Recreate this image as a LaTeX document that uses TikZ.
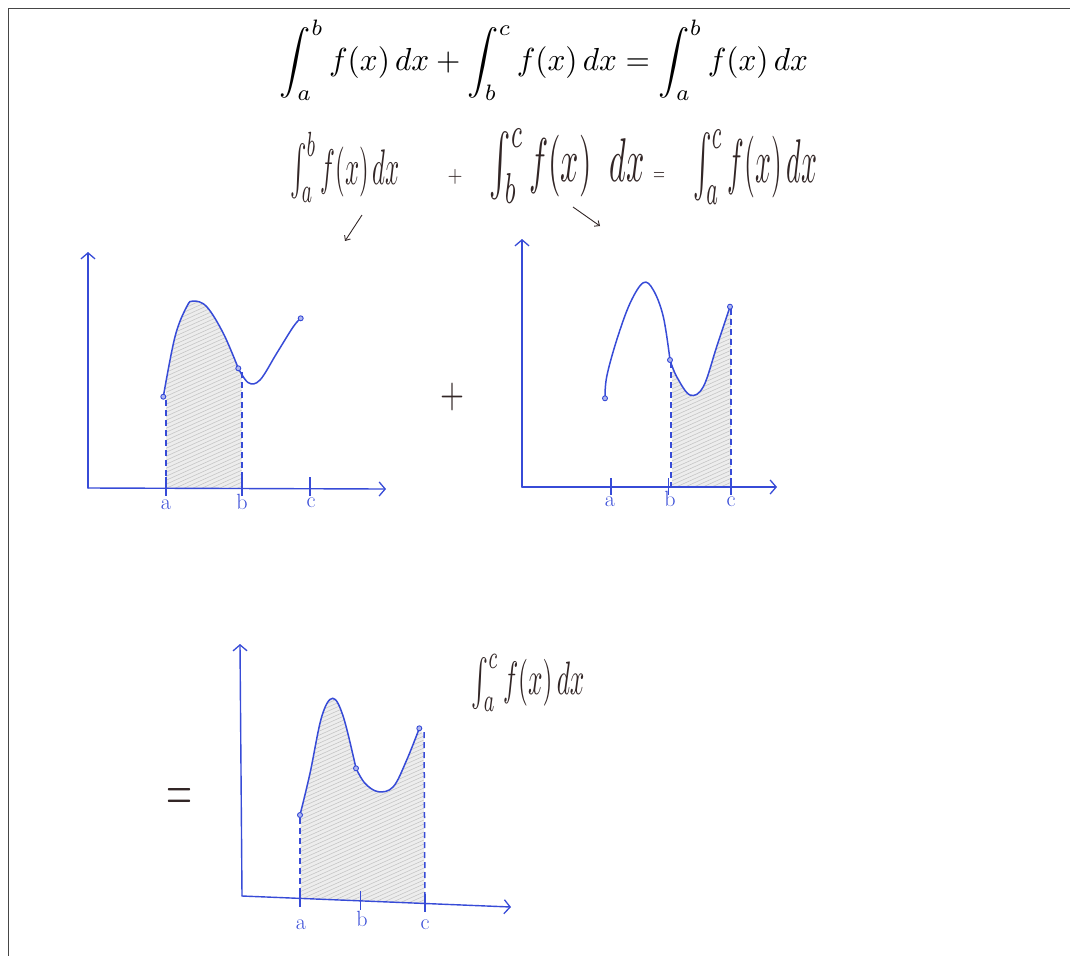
\documentclass[tikz,border=0pt]{standalone}
\usepackage{graphicx}
\usetikzlibrary{arrows.meta}
\definecolor{pen}{RGB}{55,75,215}
\definecolor{ink}{RGB}{50,38,38}
\definecolor{framec}{RGB}{70,70,70}
\tikzset{
  axisline/.style={pen, line width=1.4pt, line cap=round, -{Straight Barb[length=6pt,width=14pt,line width=1.3pt]}},
  tickline/.style={pen, line width=1.2pt},
  curveline/.style={pen, line width=1.5pt, line cap=round},
  dashline/.style={draw=pen, line width=1.5pt, dash pattern=on 6pt off 4pt},
  hatchline/.style={gray!45, line width=0.6pt},
  ptdot/.style={circle, draw=pen, fill=pen!40, line width=0.9pt, minimum size=5pt, inner sep=0pt},
  lbl/.style={pen, inner sep=0pt, font=\fontsize{22}{22}\selectfont},
  hand/.style={ink, inner sep=0pt},
  handarrow/.style={ink, line width=0.9pt, -{Straight Barb[length=4pt,width=7pt]}},
}
% hatch a box (xmin,ymin)-(xmax,ymax); used inside a clipped scope
\newcommand{\myhatch}[4]{%
  \fill[gray!14] (#1,#2) rectangle (#3,#4);
  \pgfmathsetmacro{\myhw}{(#3-#1)*0.45}%
  \pgfmathsetmacro{\myhend}{#4+\myhw}%
  \pgfmathsetmacro{\myhsec}{#2+4}%
  \foreach \d in {#2,\myhsec,...,\myhend} {\draw[hatchline] (#1,\d) -- (#3,\d-\myhw);}%
}
\begin{document}
\begin{tikzpicture}[x=1pt,y=-1pt]
\useasboundingbox (0,0) rectangle (1070,956);
% frame
\draw[framec, line width=1pt] (1070,8) -- (8,8) -- (8,956);

% typeset formula
\node[inner sep=0pt] (typeset) at (544,60) {\resizebox*{528pt}{80pt}{$\displaystyle \int_a^b f(x)\,dx+\int_b^c f(x)\,dx=\int_a^b f(x)\,dx$}};

% handwritten formula
\node[hand] (hw1) at (345,167) {\resizebox*{110pt}{70pt}{$\int_a^b f(x)\,dx$}};
\node[hand] (hplus) at (455,177) {\resizebox*{15pt}{15pt}{$+$}};
\node[hand] (hw2) at (567,166) {\resizebox*{155pt}{75pt}{$\int_b^c f(x)\;\;dx$}};
\node[hand] (heq) at (659,176) {\resizebox*{12pt}{8pt}{$=$}};
\node[hand] (hw3) at (755,167) {\resizebox*{124pt}{75pt}{$\int_a^c f(x)\,dx$}};
\coordinate (a1s) at (362,215);
\coordinate (a1e) at (345,241);
\coordinate (a2s) at (573,207);
\coordinate (a2e) at (600,226);
\draw[handarrow] (a1s) -- (a1e);
\draw[handarrow] (a2s) -- (a2e);

% ===== shaded areas =====
\begin{scope}
\clip (166,488) -- (166,390) -- plot[smooth, tension=0.6] coordinates {(163.3,396.7) (175,336.7) (186.7,306.7) (193.3,301) (206.7,306.7) (223.3,333.3) (238.3,368.3)} -- (241.5,375) -- (241.5,488) -- cycle;
\myhatch{160}{295}{245}{490}
\end{scope}
\begin{scope}
\clip (672,487) -- (672,365) -- plot[smooth, tension=0.6] coordinates {(670,360) (676.7,376.7) (690,395) (703.3,386.7) (716.7,346.7) (730,306.7)} -- (731,312) -- (731,487) -- cycle;
\myhatch{665}{300}{735}{490}
\end{scope}
\begin{scope}
\clip (300.5,898) -- (300.5,815) -- plot[smooth, tension=0.6] coordinates {(300,815) (310,773.3) (321.7,716.7) (332.7,698.3) (343.3,716.7) (356,768.3)} -- plot[smooth, tension=0.6] coordinates {(356,768.3) (365,783.3) (378.3,791.7) (393.3,786.7) (406.7,760) (419.3,728.3)} -- (423.5,735) -- (424.5,903) -- cycle;
\myhatch{295}{690}{430}{910}
\end{scope}

% ===== graph 1 =====
\coordinate (g1o) at (88,488);
\coordinate (g1y) at (88,252);
\coordinate (g1x) at (386,489);
\draw[dashline] (166,400) -- (166,488);
\draw[dashline] (242,372) -- (242,488);
\draw[curveline] plot[smooth, tension=0.6] coordinates {(163.3,396.7) (175,336.7) (186.7,306.7) (193.3,301) (206.7,306.7) (223.3,333.3) (238.3,368.3)};
\draw[curveline] plot[smooth, tension=0.6] coordinates {(238.3,368.3) (248.3,382.7) (260,380) (276.7,353.3) (293.3,326.7) (300.7,318.3)};
\draw[axisline] (g1o) -- (g1y);
\draw[axisline] (g1o) -- (g1x);
\draw[tickline] (166,477) -- (166,496);
\draw[tickline] (242,477) -- (242,496);
\draw[tickline] (310,477) -- (310,496);
\node[lbl] (g1a) at (166,505) {a};
\node[lbl] (g1b) at (242,502) {b};
\node[lbl] (g1c) at (311,503) {c};
\node[ptdot] (g1p1) at (163.3,396.7) {};
\node[ptdot] (g1p2) at (238.3,368.3) {};
\node[ptdot] (g1p3) at (300.7,318.3) {};

% plus
\node[hand] (bigplus) at (452,397) {\resizebox*{24pt}{28pt}{$+$}};

% ===== graph 2 =====
\coordinate (g2o) at (522,487);
\coordinate (g2y) at (522,239);
\coordinate (g2x) at (777,487);
\draw[dashline] (671,362) -- (671,487);
\draw[dashline] (731,309) -- (731,487);
\draw[curveline] plot[smooth, tension=0.6] coordinates {(605,398.3) (606.7,376.7) (616.7,340) (630,303.3) (643.3,282.7) (653.3,290) (663.3,316.7) (670,360)};
\draw[curveline] plot[smooth, tension=0.6] coordinates {(670,360) (676.7,376.7) (690,395) (703.3,386.7) (716.7,346.7) (730,306.7)};
\draw[axisline] (g2o) -- (g2y);
\draw[axisline] (g2o) -- (g2x);
\draw[tickline] (611,478) -- (611,495);
\draw[tickline] (668.5,478) -- (668.5,495);
\draw[tickline] (731,478) -- (731,495);
\node[lbl] (g2a) at (610,502) {a};
\node[lbl] (g2b) at (670,499) {b};
\node[lbl] (g2c) at (731,502) {c};
\node[ptdot] (g2p1) at (605,398.3) {};
\node[ptdot] (g2p2) at (670,360) {};
\node[ptdot] (g2p3) at (730,306.7) {};

% equals
\node[hand] (bigeq) at (179,799) {\resizebox*{26pt}{22pt}{$=$}};

% ===== graph 3 =====
\coordinate (g3o) at (242,896);
\coordinate (g3y) at (240,644);
\coordinate (g3x) at (511,907);
\draw[dashline] (300,818) -- (300,898);
\draw[dashline] (424,732) -- (425,903);
\draw[curveline] plot[smooth, tension=0.6] coordinates {(300,815) (310,773.3) (321.7,716.7) (332.7,698.3) (343.3,716.7) (356,768.3)};
\draw[curveline] plot[smooth, tension=0.6] coordinates {(356,768.3) (365,783.3) (378.3,791.7) (393.3,786.7) (406.7,760) (419.3,728.3)};
\draw[axisline] (g3o) -- (g3y);
\draw[axisline] (g3o) -- (g3x);
\draw[tickline] (300,888) -- (300,907);
\draw[tickline] (360.5,891) -- (360.5,910);
\draw[tickline] (425,894) -- (425,912);
\node[lbl] (g3a) at (301,925) {a};
\node[lbl] (g3b) at (362,919) {b};
\node[lbl] (g3c) at (425,925) {c};
\node[ptdot] (g3p1) at (300,815) {};
\node[ptdot] (g3p2) at (356,768.3) {};
\node[ptdot] (g3p3) at (419.3,728.3) {};

\node[hand] (hw4) at (528,683) {\resizebox*{113pt}{57pt}{$\int_a^c f(x)\,dx$}};
\end{tikzpicture}
\end{document}
